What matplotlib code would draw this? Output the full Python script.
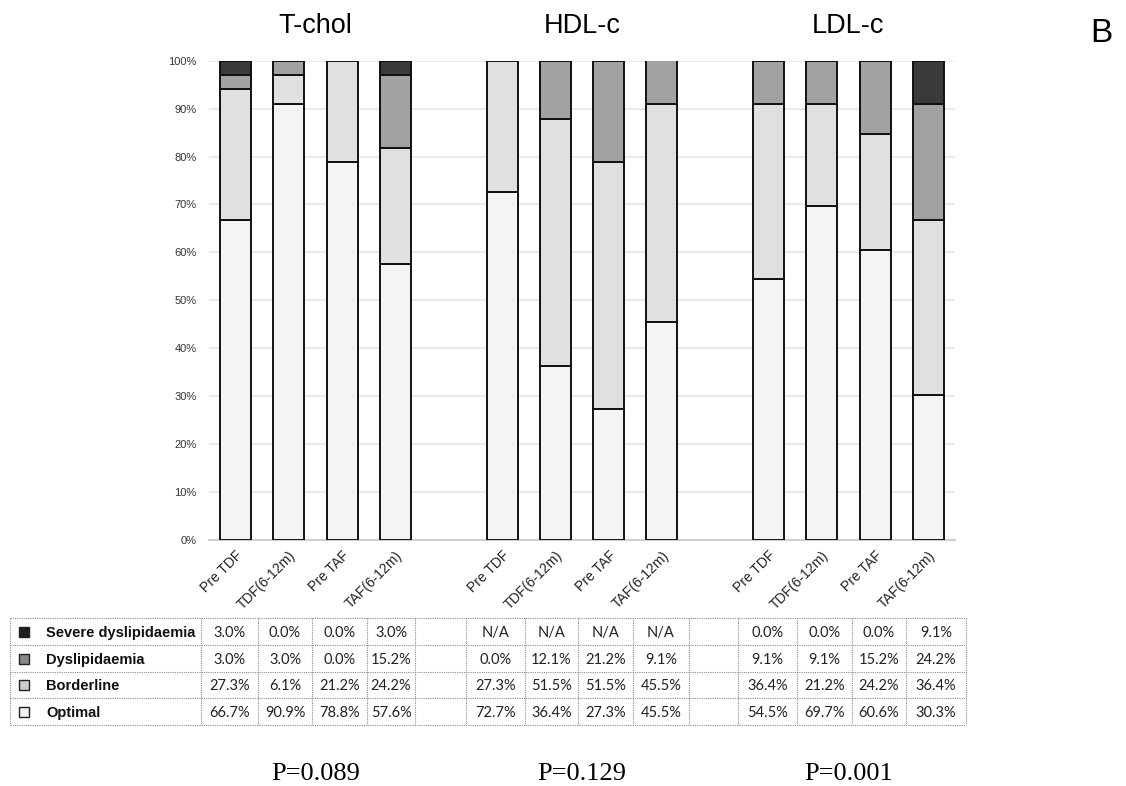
import matplotlib
matplotlib.use('Agg')
import matplotlib.pyplot as plt
import matplotlib.transforms as mtransforms
from matplotlib.patches import Rectangle
import numpy as np

# data
groups = ['T-chol', 'HDL-c', 'LDL-c']
timepoints = ['Pre TDF', 'TDF(6-12m)', 'Pre TAF', 'TAF(6-12m)']
optimal = [66.7, 90.9, 78.8, 57.6, 72.7, 36.4, 27.3, 45.5, 54.5, 69.7, 60.6, 30.3]
borderline = [27.3, 6.1, 21.2, 24.2, 27.3, 51.5, 51.5, 45.5, 36.4, 21.2, 24.2, 36.4]
dyslip = [3.0, 3.0, 0.0, 15.2, 0.0, 12.1, 21.2, 9.1, 9.1, 9.1, 15.2, 24.2]
severe = [3.0, 0.0, 0.0, 3.0, None, None, None, None, 0.0, 0.0, 0.0, 9.1]
p_values = ['P=0.089', 'P=0.129', 'P=0.001']

categories = ['Severe dyslipidaemia', 'Dyslipidaemia', 'Borderline', 'Optimal']
bar_colors = {'Optimal': '#f4f4f4', 'Borderline': '#e0e0e0',
              'Dyslipidaemia': '#a2a2a2', 'Severe dyslipidaemia': '#3a3a3a'}
key_colors = {'Optimal': '#f2f2f2', 'Borderline': '#cccccc',
              'Dyslipidaemia': '#888888', 'Severe dyslipidaemia': '#1e1e1e'}

W, H = 1126, 786
fig = plt.figure(figsize=(W / 100, H / 100), dpi=100)
plt.rcParams['font.family'] = ['Liberation Sans', 'DejaVu Sans']

ax = fig.add_axes([209 / W, 1 - 540 / H, (955 - 209) / W, (540 - 60.7) / H])

# x positions: 4 bars per group, one empty slot between groups
pos = []
for g in range(len(groups)):
    for t in range(len(timepoints)):
        pos.append(g * 5 + t)
pos = np.array(pos)

stack = [('Optimal', optimal), ('Borderline', borderline),
         ('Dyslipidaemia', dyslip), ('Severe dyslipidaemia', severe)]
bottom = np.zeros(len(pos))
for name, vals in stack:
    v = np.array([0.0 if x is None else x for x in vals])
    mask = v > 0
    ax.bar(pos[mask], v[mask], bottom=bottom[mask], width=0.58,
           color=bar_colors[name], edgecolor='#111111', linewidth=1.4, zorder=3)
    bottom += v

ax.set_xlim(-0.5, 13.5)
ax.set_ylim(0, 100)
ax.set_yticks(np.arange(0, 101, 10))
ax.set_yticklabels(['%d%%' % t for t in range(0, 101, 10)], fontsize=8, color='#333333')
ax.yaxis.grid(True, color='#e4e4e4', linewidth=1.1, zorder=0)
ax.tick_params(axis='y', length=0, pad=9)
ax.tick_params(axis='x', length=0, pad=6)
ax.set_xticks(pos)
ax.set_xticklabels(timepoints * len(groups), rotation=45, ha='right',
                   rotation_mode='anchor', fontsize=10, color='#222222')
for s in ['top', 'right', 'left']:
    ax.spines[s].set_visible(False)
ax.spines['bottom'].set_color('#d0d0d0')
ax.spines['bottom'].set_linewidth(1.5)

# group titles and p values, centred over each group
trans = mtransforms.blended_transform_factory(ax.transData, fig.transFigure)
for g in range(len(groups)):
    cx = g * 5 + 1.5
    ax.text(cx, 1 - 33 / H, groups[g], transform=trans, ha='center',
            va='baseline', fontsize=19.5)
    ax.text(cx, 1 - 780 / H, p_values[g], transform=trans, ha='center',
            va='baseline', fontsize=19, family='Liberation Serif')

fig.text(1101 / W, 1 - 42 / H, 'B', ha='center', va='baseline', fontsize=24)

# table drawn in pixel coordinates
tab = fig.add_axes([0, 0, 1, 1])
tab.set_xlim(0, W)
tab.set_ylim(H, 0)
tab.axis('off')
tab.patch.set_alpha(0)

col_edges = [10, 201, 258, 312, 367, 415, 466, 525, 578, 633, 689, 738, 797, 852, 906, 966]
row_edges = [618, 645, 672, 698, 725]
grid_kw = dict(color='#8c8c8c', linewidth=0.8, linestyle=(0, (1, 1)))
for x in col_edges:
    tab.plot([x, x], [row_edges[0], row_edges[-1]], **grid_kw)
for y in row_edges:
    tab.plot([col_edges[0], col_edges[-1]], [y, y], **grid_kw)

values = {'Severe dyslipidaemia': severe, 'Dyslipidaemia': dyslip,
          'Borderline': borderline, 'Optimal': optimal}
# data columns (skip the blank spacer columns)
data_cols = [1, 2, 3, 4, 6, 7, 8, 9, 11, 12, 13, 14]
for r, name in enumerate(categories):
    yc = (row_edges[r] + row_edges[r + 1]) / 2
    tab.add_patch(Rectangle((19, yc - 5), 10, 10, facecolor=key_colors[name],
                            edgecolor='#222222', linewidth=1.0))
    tab.text(46, yc, name, ha='left', va='center_baseline', fontsize=10.5,
             fontweight='bold', color='#111111')
    for i, c in enumerate(data_cols):
        v = values[name][i]
        txt = 'N/A' if v is None else '%.1f%%' % v
        xc = (col_edges[c] + col_edges[c + 1]) / 2
        tab.text(xc, yc, txt, ha='center', va='center_baseline', fontsize=10.5,
                 family=['Lato', 'DejaVu Sans'], color='#222222')

fig.savefig('out.png', dpi=100)
